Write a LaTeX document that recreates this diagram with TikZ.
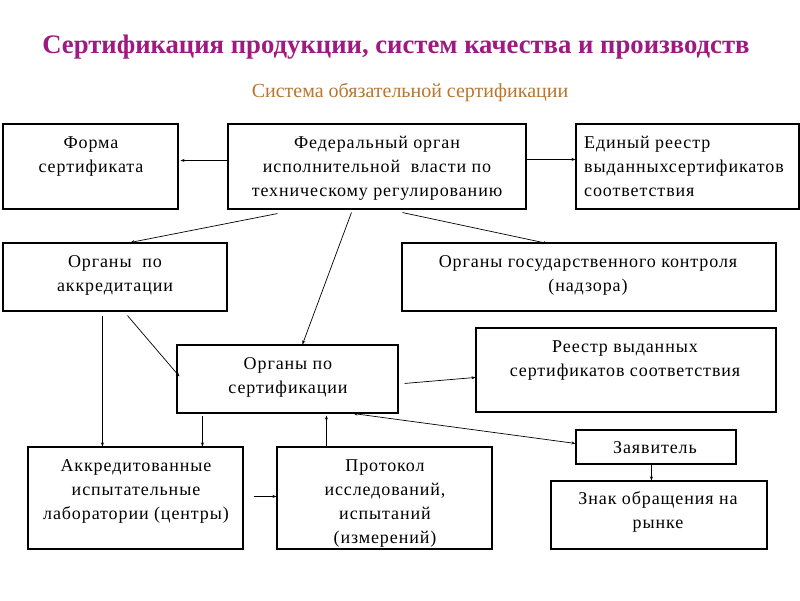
\documentclass[tikz,border=0pt]{standalone}
\usepackage{fontspec}
\setmainfont{Liberation Serif}[LetterSpace=5]
\newfontfamily\titlefont{Liberation Serif}
\usetikzlibrary{calc,arrows.meta}
\definecolor{titlecol}{RGB}{158,26,128}
\definecolor{subcol}{RGB}{184,118,48}
\begin{document}
\begin{tikzpicture}[x=1pt,y=-1pt,
  box/.style={draw=black,line width=1.1pt,inner sep=0pt,fill=white},
  txt/.style={inner sep=0pt,align=center,font=\fontsize{18}{24}\selectfont},
  arr/.style={draw=black,line width=0.7pt,-{Stealth[length=4pt,width=3pt]}},
  arrb/.style={draw=black,line width=0.7pt,{Stealth[length=4pt,width=3pt]}-{Stealth[length=4pt,width=3pt]}}]
\useasboundingbox[fill=white] (0,0) rectangle (800,600);

\node[inner sep=0pt,anchor=base,text=titlecol,font=\titlefont\bfseries\fontsize{26.7}{30}\selectfont] (title) at (396,53) {Сертификация продукции, систем качества и производств};
\node[inner sep=0pt,anchor=base,text=subcol,font=\titlefont\fontsize{20}{24}\selectfont] (sub) at (410,97) {Система обязательной сертификации};

% boxes
\node[box,minimum width=175pt,minimum height=85pt] (forma) at (90.5,166.5) {};
\node[box,minimum width=298pt,minimum height=85pt] (fed) at (377,166.5) {};
\node[box,minimum width=223pt,minimum height=85pt] (reestrA) at (687.5,166.5) {};
\node[box,minimum width=224pt,minimum height=68pt] (akkr) at (115,277) {};
\node[box,minimum width=374pt,minimum height=68pt] (gosk) at (589,277) {};
\node[box,minimum width=300pt,minimum height=84pt] (reestrB) at (626,370) {};
\node[box,minimum width=221pt,minimum height=68pt] (sert) at (287.5,379) {};
\node[box,minimum width=160pt,minimum height=34pt] (zayav) at (656,447) {};
\node[box,minimum width=215pt,minimum height=102pt] (labs) at (135.5,498) {};
\node[box,minimum width=215pt,minimum height=102pt] (prot) at (384.5,498) {};
\node[box,minimum width=216pt,minimum height=68pt] (znak) at (659,515) {};

% texts (anchor = baseline of last line)
\node[txt,anchor=base] (formaT) at (91,172) {Форма\\сертификата};
\node[txt,anchor=base] (fedT) at (377,196) {Федеральный орган\\исполнительной\ \ власти по\\техническому регулированию};
\node[txt,anchor=base west,align=left] (reestrAT) at (584,196) {Единый реестр\\выданныхсертификатов\\соответствия};
\node[txt,anchor=base] (akkrT) at (115,291) {Органы\ \ по\\аккредитации};
\node[txt,anchor=base] (goskT) at (588,291) {Органы государственного контроля\\(надзора)};
\node[txt,anchor=base] (reestrBT) at (625,376) {Реестр выданных\\сертификатов соответствия};
\node[txt,anchor=base] (sertT) at (288,393) {Органы по\\сертификации};
\node[txt,anchor=base] (zayavT) at (655,453) {Заявитель};
\node[txt,anchor=base] (labsT) at (136,519) {Аккредитованные\\испытательные\\лаборатории (центры)};
\node[txt,anchor=base] (protT) at (385,543) {Протокол\\исследований,\\испытаний\\(измерений)};
\node[txt,anchor=base] (znakT) at (658,528) {Знак обращения на\\рынке};

% connectors
\draw[arr] ($(fed.north west)+(0,37)$) -- ($(forma.north east)+(2,37)$);
\draw[arr] ($(fed.north east)+(0,36)$) -- ($(reestrA.north west)+(0,36)$);
\draw[arr] ($(fed.south west)+(50,4)$) -- ($(akkr.north west)+(128,0)$);
\draw[arr] ($(fed.south west)+(124,3)$) -- ($(sert.north west)+(126,0)$);
\draw[arr] ($(fed.south west)+(175,3)$) -- ($(gosk.north west)+(146,1)$);
\draw[arr] ($(akkr.south west)+(125,4)$) -- ($(sert.north west)+(3,32)$);
\draw[arr] ($(akkr.south west)+(100,4)$) -- ($(labs.north west)+(75,0)$);
\draw[arr] ($(sert.south west)+(26,2)$) -- ($(labs.north west)+(175,0)$);
\draw[arr] ($(prot.north west)+(50,0)$) -- ($(sert.south west)+(150,2)$);
\draw[arr] ($(labs.north east)+(10,50)$) -- ($(prot.north west)+(0,50)$);
\draw[arr] ($(sert.north east)+(6,39)$) -- ($(reestrB.north west)+(0,50)$);
\draw[arrb] ($(zayav.north west)+(0,14)$) -- ($(sert.south west)+(177,0)$);
\draw[arr] ($(zayav.south west)+(76,0)$) -- ($(znak.north west)+(101,0)$);
\end{tikzpicture}
\end{document}
